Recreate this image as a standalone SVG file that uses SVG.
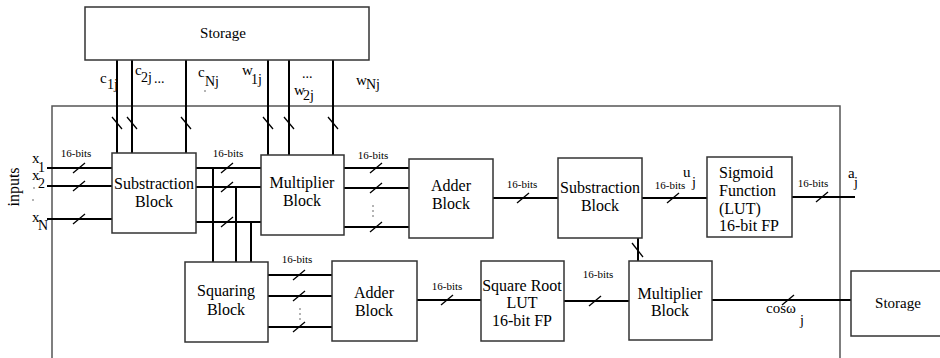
<svg xmlns="http://www.w3.org/2000/svg" width="940" height="358" viewBox="0 0 940 358" font-family="'Liberation Serif','DejaVu Serif','Times New Roman',serif">
<style>
.box{fill:#fff;stroke:#333;stroke-width:1.5}
.frame{fill:none;stroke:#555;stroke-width:1.5}
.ln{stroke:#000;stroke-width:2;fill:none}
.tk{stroke:#000;stroke-width:1.3;fill:none}
.dot{fill:#555}
text{font-family:'Liberation Serif','DejaVu Serif','Times New Roman',serif;fill:#000}
.t{font-size:16px;text-anchor:middle}
.b{font-size:11px;text-anchor:middle}
.v{font-size:15px}
.s{font-size:14px}
</style>
<rect width="940" height="358" fill="#fff"/>
<rect class="frame" x="52" y="106" width="788" height="300"/>

<g id="connectors">
  <path class="ln" d="M117 60V153M132 60V153M186 60V153M268 60V155M289 60V155M333 60V155"/>
  <path class="tk" d="M112 117l10 12M127 117l10 12M181 117l10 12M263 117l10 12M284 117l10 12M328 117l10 12"/>
  <path class="ln" d="M47 168H112M47 186H112M47 219H112"/>
  <path class="tk" d="M73 173l12-10M73 191l12-10M73 224l12-10"/>
  <path class="ln" d="M196 168H261M196 187H261M196 222H261M213 168V262M236 187V262M251 222V262"/>
  <path class="tk" d="M221 173l12-10M221 192l12-10M221 227l12-10"/>
  <path class="ln" d="M344 168H409M344 188H409M344 227H409"/>
  <path class="tk" d="M370 173l12-10M370 193l12-10M370 232l12-10"/>
  <path class="ln" d="M493 198H558"/>
  <path class="tk" d="M517 203l12-10"/>
  <path class="ln" d="M642 198H707"/>
  <path class="tk" d="M667 203l12-10"/>
  <path class="ln" d="M792 197H855"/>
  <path class="tk" d="M816 202l12-10"/>
  <path class="ln" d="M638 238V261"/>
  <path class="tk" d="M632 243l11 14"/>
  <path class="ln" d="M268 275H332M268 296H332M268 327H332"/>
  <path class="tk" d="M293 280l12-10M293 301l12-10M293 332l12-10"/>
  <path class="ln" d="M417 300H481"/>
  <path class="tk" d="M441 305l12-10"/>
  <path class="ln" d="M564 301H629"/>
  <path class="tk" d="M589 306l12-10"/>
  <path class="ln" d="M712 300H851"/>
  <path class="tk" d="M782 305l12-10"/>
  <text class="b" x="76" y="157">16-bits</text>
  <text class="b" x="228" y="157">16-bits</text>
  <text class="b" x="373" y="159">16-bits</text>
  <text class="b" x="522" y="188">16-bits</text>
  <text class="b" x="670" y="189">16-bits</text>
  <text class="b" x="813" y="187">16-bits</text>
  <text class="b" x="297" y="263">16-bits</text>
  <text class="b" x="447" y="290">16-bits</text>
  <text class="b" x="598" y="278">16-bits</text>
  <circle class="dot" cx="373" cy="206" r="0.8"/><circle class="dot" cx="373" cy="211" r="0.8"/><circle class="dot" cx="373" cy="216" r="0.8"/>
  <circle class="dot" cx="300" cy="309" r="0.8"/><circle class="dot" cx="300" cy="314" r="0.8"/><circle class="dot" cx="300" cy="319" r="0.8"/>
  <circle class="dot" cx="34" cy="188" r="0.8"/><circle class="dot" cx="33" cy="200" r="0.8"/>
  <circle class="dot" cx="205" cy="91" r="0.8"/>
  <text class="v" x="100" y="83">c</text><text class="s" x="107" y="89">1j</text>
  <text class="v" x="135" y="75">c</text><text class="s" x="141" y="82">2j</text><text class="s" x="154" y="83">...</text>
  <text class="v" x="198" y="77">c</text><text class="s" x="205" y="86">Nj</text>
  <text class="v" x="242" y="75">w</text><text class="s" x="251" y="84">1j</text>
  <text class="s" x="302" y="78">...</text>
  <text class="v" x="294" y="95">w</text><text class="s" x="303" y="100">2j</text>
  <text class="v" x="356" y="85">w</text><text class="s" x="366" y="89">Nj</text>
  <text class="v" x="32" y="163">x</text><text class="s" x="38" y="172">1</text>
  <text class="v" x="32" y="180">x</text><text class="s" x="38" y="188">2</text>
  <text class="v" x="32" y="222">x</text><text class="s" x="38" y="230">N</text>
  <text class="t" transform="translate(19 187) rotate(-90)">inputs</text>
  <text class="v" x="683" y="177">u</text><text class="s" x="692" y="187">j</text>
  <text class="v" x="848" y="178">a</text><text class="s" x="854" y="187">j</text>
  <text class="v" x="766" y="313">cosω</text><text class="s" x="800" y="325">j</text>
</g>

<g id="storage-top">
  <rect class="box" x="85" y="7" width="284" height="53"/>
  <text class="t" x="223" y="38" style="font-size:15px">Storage</text>
</g>
<g id="substraction1">
  <rect class="box" x="112" y="153" width="84" height="80"/>
  <text class="t" x="154" y="189">Substraction</text>
  <text class="t" x="154" y="207">Block</text>
</g>
<g id="multiplier1">
  <rect class="box" x="261" y="155" width="83" height="80"/>
  <text class="t" x="302" y="188">Multiplier</text>
  <text class="t" x="302" y="206">Block</text>
</g>
<g id="adder1">
  <rect class="box" x="409" y="159" width="84" height="79"/>
  <text class="t" x="451" y="191">Adder</text>
  <text class="t" x="451" y="209">Block</text>
</g>
<g id="substraction2">
  <rect class="box" x="558" y="158" width="84" height="80"/>
  <text class="t" x="600" y="193">Substraction</text>
  <text class="t" x="600" y="211">Block</text>
</g>
<g id="sigmoid">
  <rect class="box" x="707" y="157" width="85" height="80"/>
  <text x="719" y="178" font-size="16">Sigmoid</text>
  <text x="719" y="196" font-size="16">Function</text>
  <text x="719" y="214" font-size="16">(LUT)</text>
  <text x="719" y="231" font-size="16">16-bit FP</text>
</g>
<g id="squaring">
  <rect class="box" x="185" y="262" width="83" height="80"/>
  <text class="t" x="226" y="296">Squaring</text>
  <text class="t" x="226" y="315">Block</text>
</g>
<g id="adder2">
  <rect class="box" x="332" y="261" width="85" height="80"/>
  <text class="t" x="374" y="298">Adder</text>
  <text class="t" x="374" y="316">Block</text>
</g>
<g id="sqrt">
  <rect class="box" x="481" y="261" width="83" height="80"/>
  <text class="t" x="522" y="291">Square Root</text>
  <text class="t" x="522" y="308">LUT</text>
  <text class="t" x="522" y="326">16-bit FP</text>
</g>
<g id="multiplier2">
  <rect class="box" x="629" y="261" width="83" height="79"/>
  <text class="t" x="670" y="299">Multiplier</text>
  <text class="t" x="670" y="316">Block</text>
</g>
<g id="storage-right">
  <rect class="box" x="851" y="271" width="120" height="65"/>
  <text class="t" x="898" y="308" style="font-size:15px">Storage</text>
</g>
</svg>
